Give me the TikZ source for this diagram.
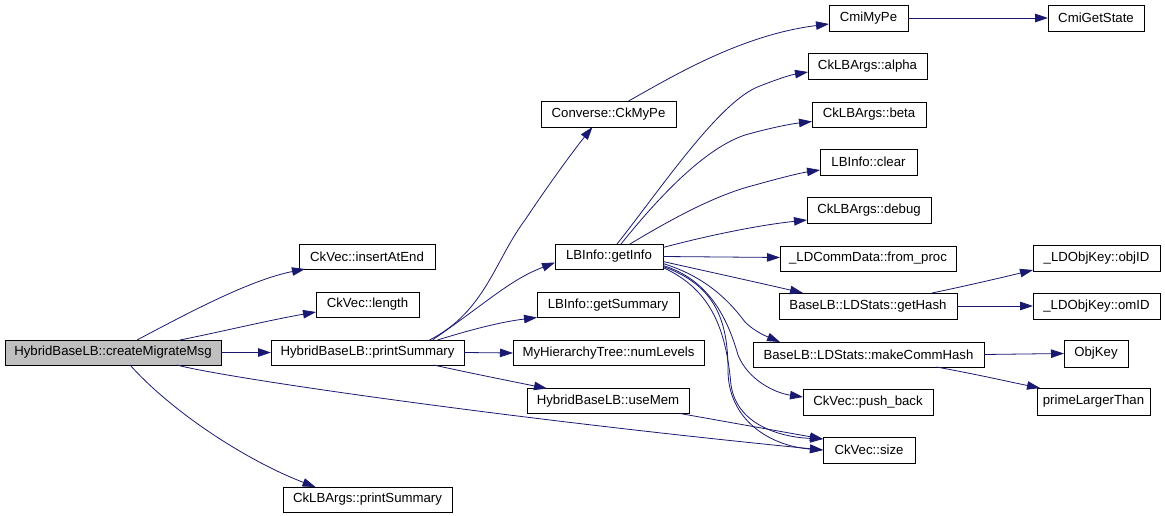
\documentclass[tikz,border=0pt]{standalone}
\usepackage{fontspec}
\setmainfont{Liberation Sans}
\usetikzlibrary{arrows.meta}
\definecolor{edgec}{HTML}{191970}
\definecolor{mainfill}{HTML}{BFBFBF}
\begin{document}
\begin{tikzpicture}[x=1pt,y=-1pt,
  box/.style={draw=black, line width=0.8pt, inner sep=0pt, outer sep=0pt,
    minimum height=25pt, font=\fontsize{13.2}{15}\selectfont, text=black},
  call/.style={draw=edgec, line width=0.8pt,
    -{Triangle[length=13pt,width=8.5pt,fill=edgec]}}]
\useasboundingbox (0,0) rectangle (1165,516);
% nodes
\node[box, fill=mainfill, minimum width=216pt] (m) at (113,352.5) {HybridBaseLB::createMigrateMsg};
\node[box, minimum width=136pt] (ins) at (367,256.5) {CkVec::insertAtEnd};
\node[box, minimum width=103pt] (len) at (367.5,304.5) {CkVec::length};
\node[box, minimum width=193pt] (ps) at (367.5,352.5) {HybridBaseLB::printSummary};
\node[box, minimum width=169pt] (clps) at (367.5,499.5) {CkLBArgs::printSummary};
\node[box, minimum width=135pt, minimum height=26pt] (cmp) at (608.5,114) {Converse::CkMyPe};
\node[box, minimum width=108pt] (gi) at (609,256.5) {LBInfo::getInfo};
\node[box, minimum width=142pt] (gs) at (608,305) {LBInfo::getSummary};
\node[box, minimum width=191pt] (nl) at (608.5,353) {MyHierarchyTree::numLevels};
\node[box, minimum width=162pt] (um) at (608,401) {HybridBaseLB::useMem};
\node[box, minimum width=79pt, minimum height=26pt] (cmi) at (868.5,18) {CmiMyPe};
\node[box, minimum width=119pt, minimum height=26pt] (al) at (867.5,66) {CkLBArgs::alpha};
\node[box, minimum width=114pt] (be) at (869,114.5) {CkLBArgs::beta};
\node[box, minimum width=97pt, minimum height=26pt] (cl) at (868.5,162) {LBInfo::clear};
\node[box, minimum width=124pt, minimum height=26pt] (db) at (869,210) {CkLBArgs::debug};
\node[box, minimum width=176pt] (fp) at (868,258.5) {\_LDCommData::from\_proc};
\node[box, minimum width=178pt, minimum height=26pt] (gh) at (868,306) {BaseLB::LDStats::getHash};
\node[box, minimum width=231pt] (mch) at (868.5,354.5) {BaseLB::LDStats::makeCommHash};
\node[box, minimum width=130pt, minimum height=26pt] (pb) at (868,402) {CkVec::push\_back};
\node[box, minimum width=92pt, minimum height=26pt] (sz) at (869,450) {CkVec::size};
\node[box, minimum width=96pt, minimum height=26pt] (cgs) at (1096,18) {CmiGetState};
\node[box, minimum width=127pt, minimum height=26pt] (oid) at (1096.5,258) {\_LDObjKey::objID};
\node[box, minimum width=127pt, minimum height=26pt] (omid) at (1096.5,306) {\_LDObjKey::omID};
\node[box, minimum width=64pt, minimum height=27pt] (ok) at (1096,353.5) {ObjKey};
\node[box, minimum width=113pt, minimum height=27pt] (plt) at (1093.5,401.5) {primeLargerThan};
% edges from createMigrateMsg
\draw[call] ([xshift=24pt]m.north) .. controls (190,312) and (250,280) .. ([xshift=6pt]ins.south west);
\draw[call] ([xshift=67pt]m.north) .. controls (220,332) and (270,320) .. ([yshift=5pt]len.south west);
\draw[call] (m.east) -- (ps.west);
\draw[call] ([xshift=64pt]m.south) .. controls (220,377) and (500,418) .. (sz.west);
\draw[call] ([xshift=17pt]m.south) .. controls (175,415) and (250,462) .. ([xshift=-52pt]clps.north);
% edges from printSummary
\draw[call] ([xshift=62pt]ps.north) .. controls (485,312) and (495,260) .. (525,220)
  .. controls (545,190) and (570,155) .. ([xshift=-16pt]cmp.south);
\draw[call] ([xshift=65pt]ps.north) .. controls (490,300) and (510,280) .. ([yshift=-6pt]gi.west);
\draw[call] ([xshift=70pt]ps.north) .. controls (470,330) and (500,322) .. (gs.south west);
\draw[call] (ps.east) -- (nl.west);
\draw[call] ([xshift=66pt]ps.south) .. controls (470,373) and (510,381) .. ([xshift=-61pt]um.north);
% Converse::CkMyPe and CmiMyPe
\draw[call] ([xshift=20pt]cmp.north) .. controls (670,78) and (740,35) .. ([yshift=-6pt]cmi.west);
\draw[call] (cmi.east) -- (cgs.west);
% edges from getInfo
\draw[call] ([xshift=8pt]gi.north) .. controls (660,190) and (720,100) .. (760,86)
  .. controls (775,80) and (790,75) .. ([yshift=-6pt]al.west);
\draw[call] ([xshift=12pt]gi.north) .. controls (650,208) and (700,150) .. (745,135)
  .. controls (770,128) and (790,124) .. ([yshift=-7pt]be.west);
\draw[call] ([xshift=21pt]gi.north) .. controls (670,220) and (715,195) .. (755,185)
  .. controls (780,178) and (800,173) .. ([yshift=-8pt]cl.west);
\draw[call] ([yshift=9pt]gi.east) .. controls (710,235) and (760,225) .. ([yshift=-10pt]db.west);
\draw[call] (gi.east) -- ([yshift=1pt]fp.west);
\draw[call] ([yshift=-5pt]gi.east) .. controls (710,272) and (760,283) .. ([xshift=24pt]gh.north west);
\draw[call] ([yshift=-7pt]gi.east) .. controls (700,275) and (725,295) .. (745,322)
  .. controls (755,332) and (768,337) .. ([xshift=27pt]mch.north west);
\draw[call] ([yshift=-9pt]gi.east) .. controls (710,280) and (728,320) .. (738,355)
  .. controls (748,380) and (775,393) .. ([yshift=5pt]pb.west);
\draw[call] ([yshift=-10pt]gi.east) .. controls (715,285) and (728,320) .. (728,370)
  .. controls (728,420) and (770,446) .. (sz.west);
\draw[call] ([yshift=-11pt]gi.east) .. controls (712,290) and (726,330) .. (731,385)
  .. controls (737,425) and (780,437) .. ([yshift=11pt]sz.west);
% useMem
\draw[call] ([xshift=72pt]um.south) -- ([yshift=11pt]sz.west);
% getHash and makeCommHash
\draw[call] ([xshift=64pt]gh.north) .. controls (970,285) and (1000,278) .. ([yshift=1pt]oid.south west);
\draw[call] (gh.east) -- (omid.west);
\draw[call] (mch.east) -- (ok.west);
\draw[call] ([xshift=68pt]mch.south) .. controls (980,375) and (1010,382) .. ([xshift=3pt]plt.north west);
\end{tikzpicture}
\end{document}
